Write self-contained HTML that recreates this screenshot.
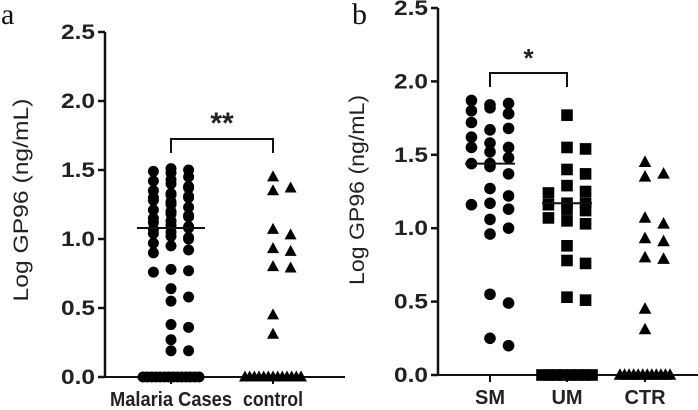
<!DOCTYPE html>
<html><head><meta charset="utf-8"><style>
html,body{margin:0;padding:0;background:#fff;}
svg{display:block;font-family:"Liberation Sans",Arial,sans-serif;}
</style></head><body>
<svg id="chart" width="698" height="410" viewBox="0 0 698 410"></svg>
<script>
// Panel a data
const catsA = ["Malaria Cases", "control"];
const malariaVals = [1.51,1.50,1.49,1.48,1.45,1.43,1.42,1.40,1.38,1.37,1.35,1.33,1.32,1.31,1.30,1.30,1.28,1.27,1.25,1.23,1.21,1.20,1.18,1.17,1.16,1.15,1.13,1.12,1.10,1.09,1.08,1.07,1.05,1.04,1.02,1.01,1.00,0.97,0.95,0.92,0.90,0.78,0.77,0.76,0.64,0.58,0.55,0.38,0.36,0.27,0.19,0.19,0,0,0,0,0,0,0,0,0,0,0,0,0,0];
const controlVals = [1.45,1.35,1.37,1.07,1.03,0.93,0.91,0.80,0.79,0.45,0.31,0,0,0,0,0,0,0,0,0,0,0,0,0];
const mediansA = [1.08, 0];
const ticksA = [0, 0.5, 1.0, 1.5, 2.0, 2.5];
// Panel b data
const catsB = ["SM", "UM", "CTR"];
const smVals = [1.84,1.85,1.87,1.82,1.78,1.80,1.78,1.67,1.72,1.68,1.58,1.55,1.62,1.55,1.52,1.48,1.44,1.44,1.42,1.37,1.27,1.22,1.17,1.16,1.13,1.06,1.00,0.96,0.55,0.49,0.25,0.20];
const umVals = [1.77,1.55,1.54,1.40,1.37,1.29,1.25,1.24,1.17,1.17,1.16,1.13,1.12,1.07,1.05,1.03,0.88,0.78,0.76,0.53,0.51,0,0,0,0,0,0,0,0];
const ctrVals = [1.45,1.35,1.37,1.07,1.03,0.93,0.91,0.80,0.79,0.45,0.31,0,0,0,0,0,0,0,0,0,0,0,0];
const mediansB = [1.44, 1.17, 0];
const ticksB = [0, 0.5, 1.0, 1.5, 2.0, 2.5];

const NS="http://www.w3.org/2000/svg";
const svg=document.getElementById('chart');
function mk(tag,attrs,parent){const e=document.createElementNS(NS,tag);for(const k in attrs)e.setAttribute(k,attrs[k]);(parent||svg).appendChild(e);return e;}

function panel(cfg){
  const g=mk('g',{});
  
  
  const y=v=>cfg.y0-(v/2.5)*(cfg.y0-cfg.y25);
  const x=i=>cfg.xc[i];
  const ya=mk('line',{x1:cfg.ax,y1:cfg.y25,x2:cfg.ax,y2:cfg.y0,stroke:'#111','stroke-width':2.5},g);
  
  
  const xa=mk('line',{x1:cfg.ax,y1:cfg.y0,x2:cfg.xend,y2:cfg.y0,stroke:'#111','stroke-width':2},g);
  
  
  cfg.ticks.forEach(t=>{
    mk('line',{x1:cfg.ax-7,y1:y(t),x2:cfg.ax,y2:y(t),stroke:'#111','stroke-width':2.5},g);
    const tl=mk('text',{x:cfg.ax-10,y:y(t)+7,'text-anchor':'end','font-size':21,'font-weight':'bold',fill:'#222',textLength:34,lengthAdjust:'spacingAndGlyphs'},g);
    tl.textContent=t.toFixed(1);
    
    
  });
  cfg.cats.forEach((c,i)=>{
    mk('line',{x1:x(i),y1:cfg.y0,x2:x(i),y2:cfg.y0+7,stroke:'#111','stroke-width':2},g);
    const at={x:x(i),y:cfg.y0+29,'text-anchor':'middle','font-size':20,'font-weight':'bold',fill:'#222'};
    if(cfg.catLen){at.textLength=cfg.catLen[i];at.lengthAdjust='spacingAndGlyphs';}
    const cl=mk('text',at,g);
    cl.textContent=c;
    
    
  });
  const yt=mk('text',{x:0,y:0,'text-anchor':'middle','font-size':21,fill:'#222',textLength:cfg.titleLen,lengthAdjust:'spacingAndGlyphs',transform:`translate(${cfg.titleX},${cfg.titleY}) rotate(-90)`},g);
  yt.textContent='Log GP96 (ng/mL)';
  
  
  const pl=mk('text',{x:cfg.lblX,y:24,'font-size':30,'font-family':'"Liberation Serif",serif',fill:'#111'},g);
  pl.textContent=cfg.label;
  
  
  cfg.series.forEach((vals,i)=>{
    const placed=[];const d=cfg.r*2;
    const zeros=vals.filter(v=>v===0).length;let zi=0;
    vals.forEach(v=>{
      const py=y(v);let off=0;
      if(v===0){off=zeros>1?-cfg.zw+2*cfg.zw*zi/(zeros-1):0;zi++;}
      else{
        let best=0,bestC=1e9;
        for(let k=0;k<20;k++){
          const o=(k%2?1:-1)*Math.ceil(k/2)*d*0.8;
          if(Math.abs(o)>cfg.maxW)continue;
          const c=placed.filter(p=>Math.abs(p.y-py)<d*0.85&&Math.abs(p.x-o)<d*0.85).length;
          if(c<bestC){bestC=c;best=o;if(c===0)break;}
        }
        off=best;placed.push({x:off,y:py});
      }
      const px=x(i)+off;let m;const r=cfg.r;
      if(cfg.shapes[i]==='c')m=mk('circle',{cx:px,cy:py,r:r,fill:'#000'},g);
      else if(cfg.shapes[i]==='s')m=mk('rect',{x:px-r,y:py-r,width:2*r,height:2*r,fill:'#000'},g);
      else m=mk('polygon',{points:`${px},${py-r-1} ${px+r+0.5},${py+r-1} ${px-r-0.5},${py+r-1}`,fill:'#000'},g);
      
      
    });
  });
  cfg.medians.forEach((mv,i)=>{
    if(mv>0){const ml=mk('line',{x1:x(i)-cfg.mw,y1:y(mv),x2:x(i)+cfg.mw,y2:y(mv),stroke:'#111','stroke-width':2},g);
    
    }
  });
  const b=cfg.br;
  const bp=mk('path',{d:`M${x(b.a)},${b.y+14} V${b.y} H${x(b.b)} V${b.y+14}`,fill:'none',stroke:'#111','stroke-width':2},g);
  
  
  const st=mk('text',{x:(x(b.a)+x(b.b))/2,y:b.y-6,'text-anchor':'middle','font-size':b.fs,'font-weight':'bold',fill:'#222'},g);
  st.textContent=b.t;
  
  
}
panel({name:'panel-a',label:'a',lblX:1,ax:105,xend:345,y0:377,y25:32,xc:[171,273],cats:catsA,catLen:[122,60],ticks:ticksA,titleX:28,titleY:200,titleLen:203,
  series:[malariaVals,controlVals],shapes:['c','t'],r:5.5,maxW:30,zw:28,medians:mediansA,mw:34,br:{a:0,b:1,y:139,t:'**',fs:30}});
panel({name:'panel-b',label:'b',lblX:352,ax:438,xend:698,y0:375,y25:8,xc:[490,567,645],cats:catsB,catLen:null,ticks:ticksB,titleX:364,titleY:190,titleLen:190,
  series:[smVals,umVals,ctrVals],shapes:['c','s','t'],r:5.8,maxW:28,zw:25,medians:mediansB,mw:25,br:{a:0,b:1,y:73,t:'*',fs:26}});
</script>
</body></html>
